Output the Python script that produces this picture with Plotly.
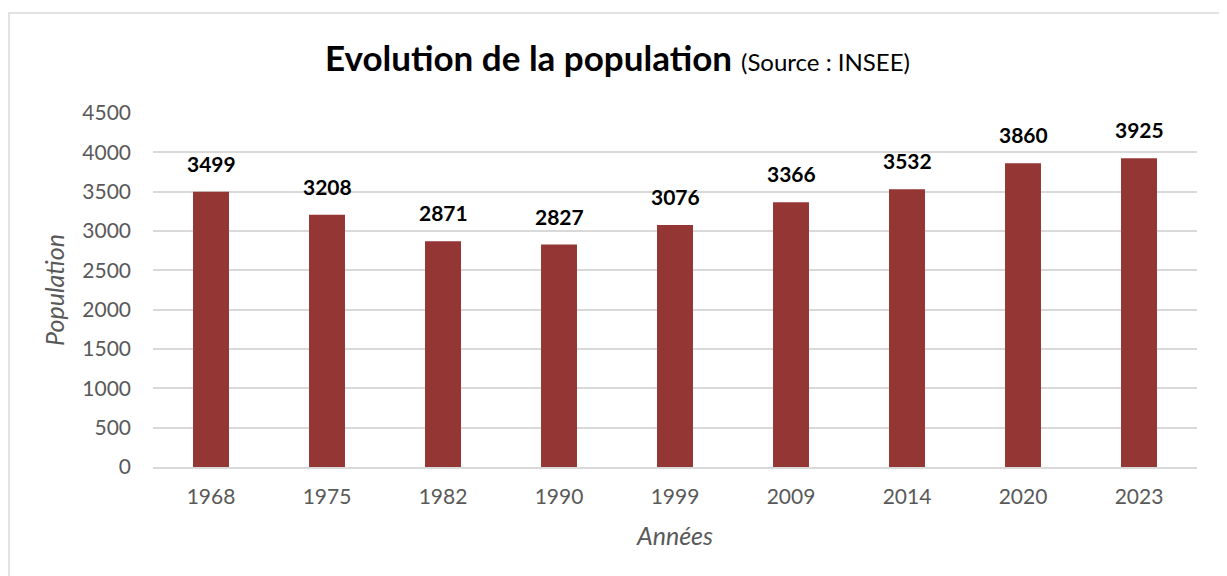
import plotly.graph_objects as go

years = ["1968", "1975", "1982", "1990", "1999", "2009", "2014", "2020", "2023"]
population = [3499, 3208, 2871, 2827, 3076, 3366, 3532, 3860, 3925]
y_ticks = [0, 500, 1000, 1500, 2000, 2500, 3000, 3500, 4000, 4500]

bar_color = "#943634"
font_family = "Lato, 'Open Sans', sans-serif"

fig = go.Figure()
fig.add_trace(go.Bar(
    x=years, y=population, marker=dict(color=bar_color, line=dict(width=0)),
    width=0.31, hoverinfo="x+y",
))

# data labels (category index used as the x position on the category axis)
for i, val in enumerate(population):
    fig.add_annotation(x=i, y=val, xref="x", yref="y", text=f"<b>{val}</b>", showarrow=False,
                       yanchor="bottom", yshift=14,
                       font=dict(size=21, color="#000000", family=font_family))

fig.update_layout(
    width=1219, height=568,
    margin=dict(l=145, r=30, t=105, b=109),
    paper_bgcolor="white", plot_bgcolor="white",
    showlegend=False,
    title=dict(
        text="<b>Evolution de la population</b> <span style='font-size:24px'>(Source : INSEE)</span>",
        x=0.5, xanchor="center", y=0.91, yanchor="middle", xref="container", yref="container",
        font=dict(size=35, color="#000000", family=font_family),
    ),
    font=dict(family=font_family, color="#595959"),
    xaxis=dict(
        type="category", categoryorder="array", categoryarray=years,
        range=[-0.5, len(years) - 0.5], autorange=False,
        title=dict(text="<i>Années</i>", font=dict(size=25, color="#595959"), standoff=21),
        tickfont=dict(size=21, color="#595959"),
        ticklabelstandoff=10,
        showline=True, linecolor="#d9d9d9", linewidth=1.5,
        ticks="", showgrid=False,
    ),
    yaxis=dict(
        title=dict(text="<i>Population</i>", font=dict(size=25, color="#595959"), standoff=10),
        range=[0, 4500], tickvals=y_ticks, autorange=False,
        tickfont=dict(size=21, color="#595959"),
        showgrid=True, gridcolor="#d9d9d9", gridwidth=1.5,
        zeroline=False, showline=False, ticks="", ticklen=0,
        ticklabelstandoff=21,
    ),
    shapes=[dict(type="rect", xref="paper", yref="paper",
                 x0=-0.1379, x1=1.0259, y0=-0.33, y1=1.2825,
                 line=dict(color="#d9d9d9", width=1.5), fillcolor="rgba(0,0,0,0)", layer="below")],
)

fig.write_html("out.html")
